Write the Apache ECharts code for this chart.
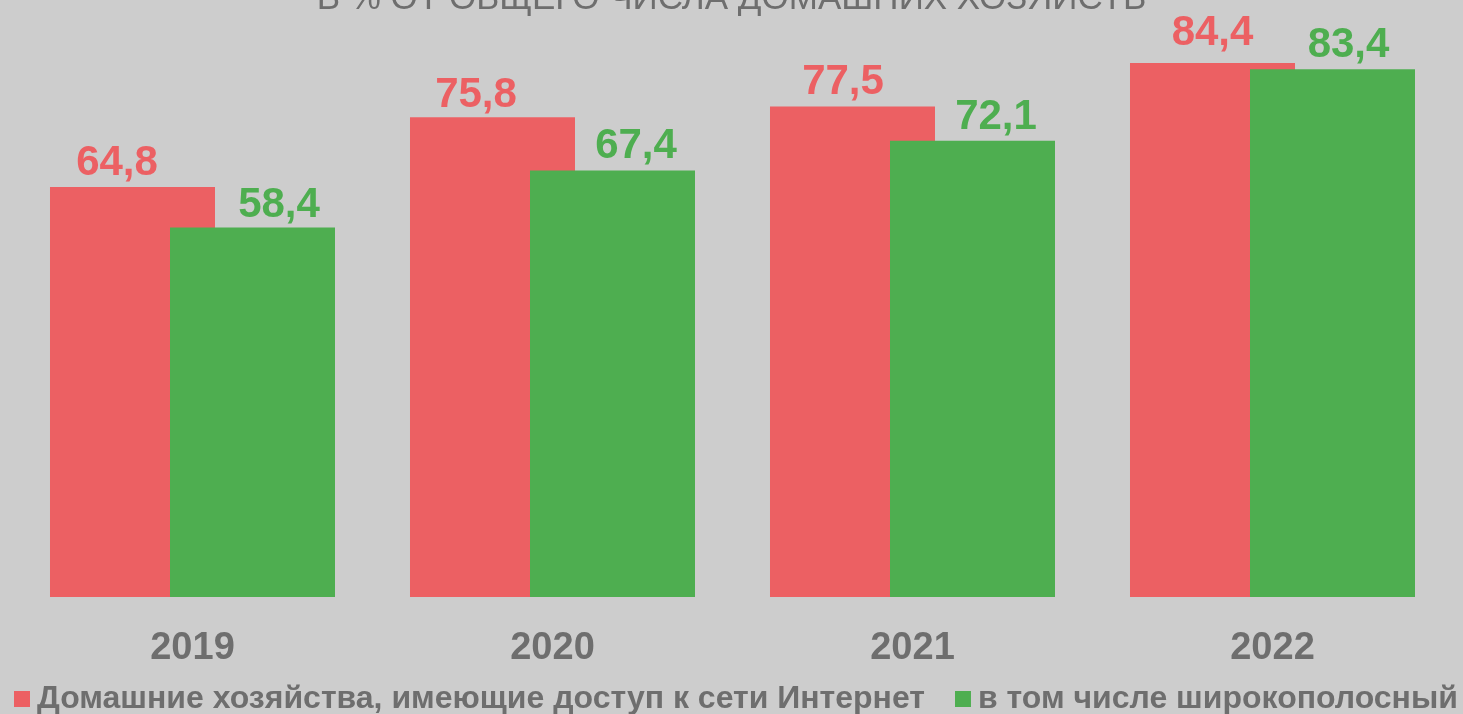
<!DOCTYPE html>
<html>
<head>
<meta charset="utf-8">
<script src="https://cdn.jsdelivr.net/npm/echarts@6/dist/echarts.min.js"></script>
<style>
  html, body { margin: 0; padding: 0; background: #cdcdcd; }
  #chart { width: 1463px; height: 714px; }
</style>
</head>
<body>
<div id="chart"></div>
<script>
const years = ["2019", "2020", "2021", "2022"];
const internetAccess = [64.8, 75.8, 77.5, 84.4];
const broadband = [58.4, 67.4, 72.1, 83.4];
const seriesNames = [
  "Домашние хозяйства, имеющие доступ к сети Интернет",
  "в том числе широкополосный"
];

// labels were nudged by hand in the original, keep those shifts here
const redLabelShift = [[-15.5, -3], [-16.5, -1], [-9.5, -3], [0, -9]];
const greenLabelShift = [[26.5, -1], [23.5, -3], [23.5, -2], [16, -3]];

const RED = "#ec6063";
const GREEN = "#4eae50";
const GREY = "#6e6e6e";
const FONT = "Liberation Sans, Arial, sans-serif";

const fmt = (p) => String(p.value).replace(".", ",");

const barData = (values, shifts) =>
  values.map((v, i) => ({ value: v, label: { offset: shifts[i] } }));

const labelStyle = (color) => ({
  show: true,
  position: "top",
  distance: 0,
  formatter: fmt,
  fontFamily: FONT,
  fontSize: 42,
  fontWeight: "bold",
  color: color
});

const chart = echarts.init(document.getElementById("chart"));

chart.setOption({
  backgroundColor: "#cdcdcd",
  animation: false,
  title: {
    text: "В % ОТ ОБЩЕГО ЧИСЛА ДОМАШНИХ ХОЗЯЙСТВ",
    left: "center",
    top: -23,
    textStyle: { fontFamily: FONT, fontSize: 35, fontWeight: "normal", color: GREY }
  },
  legend: {
    left: 9,
    top: 678,
    itemWidth: 16,
    itemHeight: 16,
    itemGap: 30,
    icon: "rect",
    textStyle: { fontFamily: FONT, fontSize: 32, fontWeight: "bold", color: GREY, padding: [0, 0, 0, 2] },
    data: seriesNames
  },
  grid: { left: 12.5, right: 10.5, top: 27.5, bottom: 117 },
  xAxis: {
    type: "category",
    data: years,
    axisLine: { show: false },
    axisTick: { show: false },
    axisLabel: { margin: 33, fontFamily: FONT, fontSize: 38, fontWeight: "bold", color: GREY }
  },
  yAxis: {
    type: "value",
    min: 0,
    max: 90,
    show: false,
    splitLine: { show: false }
  },
  series: [
    {
      name: seriesNames[0],
      type: "bar",
      data: barData(internetAccess, redLabelShift),
      barWidth: 165,
      barGap: "-27.27%",
      itemStyle: { color: RED },
      label: labelStyle(RED)
    },
    {
      name: seriesNames[1],
      type: "bar",
      data: barData(broadband, greenLabelShift),
      barWidth: 165,
      itemStyle: { color: GREEN },
      label: labelStyle(GREEN)
    }
  ]
});
</script>
</body>
</html>
